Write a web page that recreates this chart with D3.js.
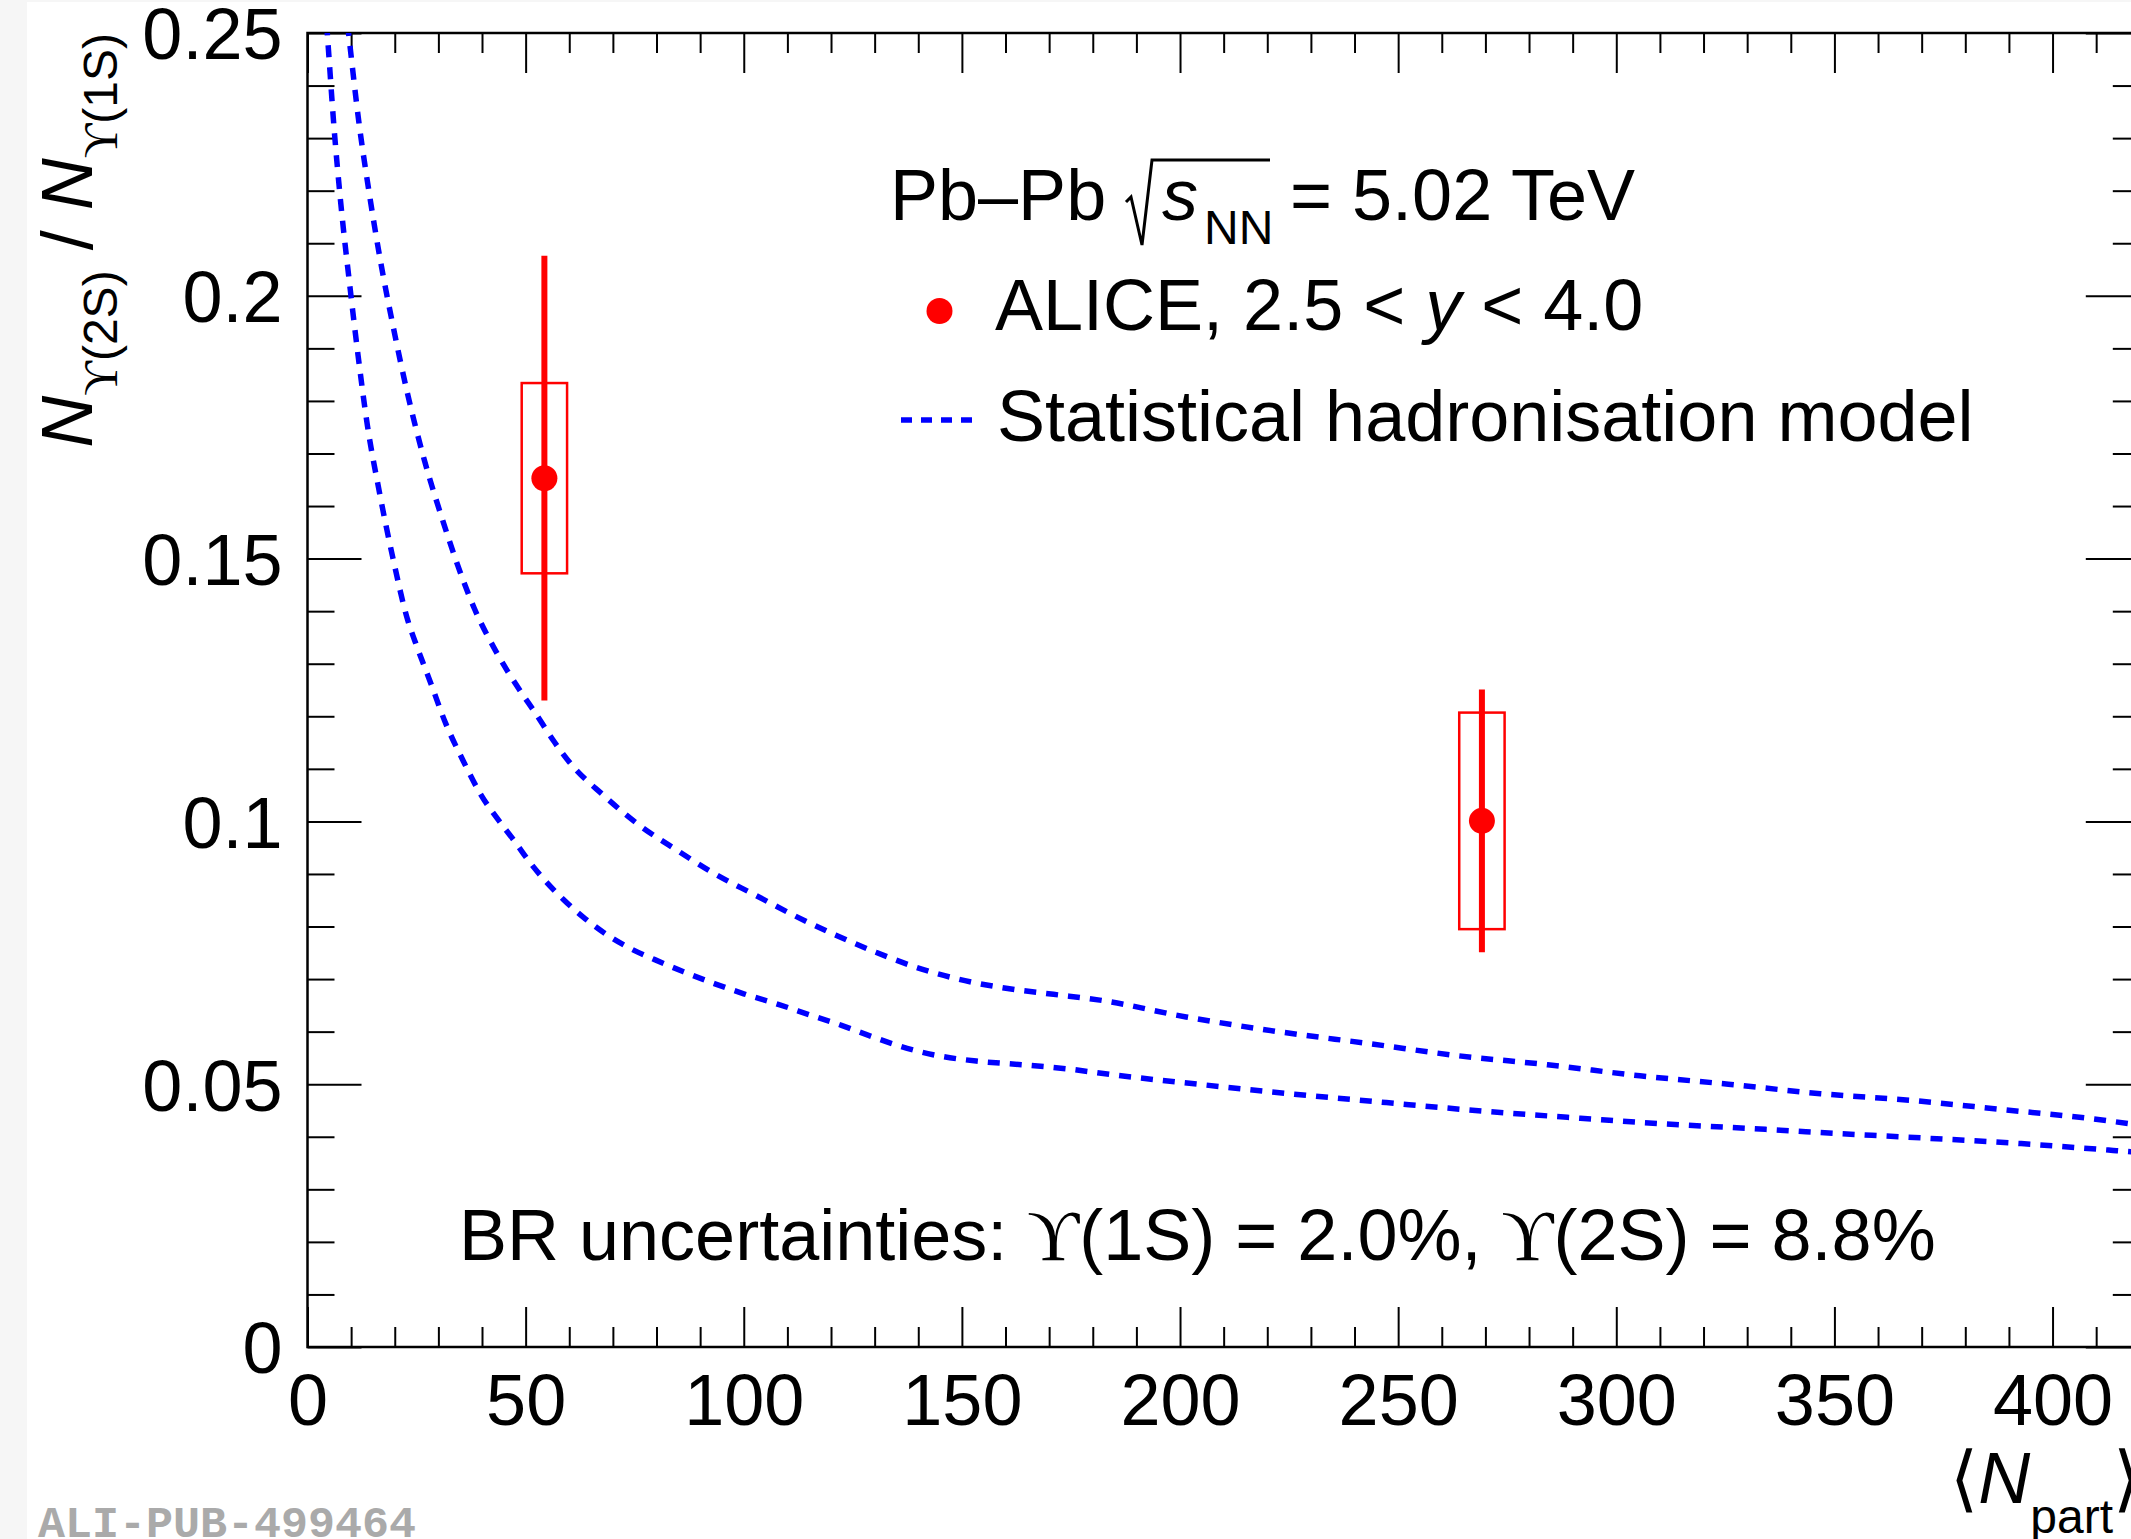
<!DOCTYPE html>
<html>
<head>
<meta charset="utf-8">
<script src="https://cdn.jsdelivr.net/npm/d3@7"></script>
<style>
  body { margin: 0; background: #fff; }
  svg { display: block; font-family: "Liberation Sans", Arial, Helvetica, sans-serif; }
</style>
</head>
<body>
<script>
// ALICE points, Y(2S)/Y(1S) vs <Npart>
var npart   = [54.3, 269.2];
var ratio   = [0.1653, 0.1001];
var statErr = [0.0423, 0.0250];
var systErr = [0.0181, 0.0206];

// statistical hadronisation model, upper / lower edge [Npart, ratio]
var shmUpper = [
  [8.0, 0.2600], [9.4, 0.2500], [11.8, 0.2329], [14.1, 0.2198], [16.6, 0.2072],
  [19.5, 0.1947], [22.9, 0.1815], [26.7, 0.1690], [31.1, 0.1570], [34.4, 0.1488],
  [38.2, 0.1406], [43.1, 0.1325], [48.7, 0.1249], [52.0, 0.1209], [56.6, 0.1151],
  [60.5, 0.1108], [67.8, 0.1050], [75.7, 0.0995], [84.9, 0.0944], [93.4, 0.0900],
  [102.6, 0.0860], [111.8, 0.0820], [121.0, 0.0784], [130.3, 0.0751], [140.8, 0.0719],
  [150.7, 0.0697], [160.5, 0.0682], [171.0, 0.0671], [181.6, 0.0660], [201.4, 0.0628],
  [222.5, 0.0600], [243.6, 0.0577], [263.9, 0.0554], [284.3, 0.0537], [305.4, 0.0516],
  [325.7, 0.0500], [346.8, 0.0482], [367.9, 0.0469], [388.2, 0.0452], [409.3, 0.0434],
  [420.0, 0.0422]
];
var shmLower = [
  [4.0, 0.2560], [4.6, 0.2492], [6.1, 0.2318], [7.5, 0.2187], [9.8, 0.2012],
  [11.6, 0.1886], [13.7, 0.1755], [16.4, 0.1630], [19.5, 0.1504], [22.9, 0.1385],
  [25.2, 0.1330], [28.3, 0.1262], [31.5, 0.1190], [35.7, 0.1115], [39.8, 0.1050],
  [44.0, 0.1000], [47.4, 0.0963], [50.7, 0.0925], [54.6, 0.0886], [58.6, 0.0852],
  [63.2, 0.0818], [67.8, 0.0789], [74.3, 0.0757], [79.6, 0.0737], [86.2, 0.0714],
  [93.4, 0.0691], [100.0, 0.0672], [107.9, 0.0652], [115.1, 0.0632], [122.4, 0.0612],
  [128.9, 0.0592], [135.5, 0.0573], [143.4, 0.0556], [153.3, 0.0544], [163.8, 0.0537],
  [174.3, 0.0529], [184.5, 0.0518], [205.2, 0.0499], [226.2, 0.0481], [247.3, 0.0465],
  [267.7, 0.0450], [288.8, 0.0437], [309.9, 0.0425], [330.2, 0.0416], [351.3, 0.0406],
  [371.7, 0.0397], [392.8, 0.0387], [413.9, 0.0374], [420.0, 0.0370]
];

var xMajorTicks = [0, 50, 100, 150, 200, 250, 300, 350, 400];
var xTickLabels = ["0", "50", "100", "150", "200", "250", "300", "350", "400"];
var yMajorTicks = [0, 0.05, 0.1, 0.15, 0.2, 0.25];
var yTickLabels = ["0", "0.05", "0.1", "0.15", "0.2", "0.25"];

var boxHalfWidth = 5.2; // syst box, in Npart units

//Viz space (frame runs a bit past the right edge of the picture)
var margin = {top: 33, left: 307.5},
    width = 1832.3,
    height = 1314;

var svg = d3.select("body").append("svg")
  .attr("width", 2131)
  .attr("height", 1539);

// light grey strip on the left / top like the original export
svg.append("rect").attr("x", 0).attr("y", 0).attr("width", 2131).attr("height", 1539).attr("fill", "#fff");
svg.append("rect").attr("x", 0).attr("y", 0).attr("width", 27).attr("height", 1539).attr("fill", "#f6f6f6");
svg.append("rect").attr("x", 0).attr("y", 0).attr("width", 2131).attr("height", 2).attr("fill", "#f6f6f6");

var plot = svg.append("g")
  .attr("transform", "translate(" + margin.left + "," + margin.top + ")");

var xScale = d3.scaleLinear().domain([0, 420]).range([0, width]);
var yScale = d3.scaleLinear().domain([0, 0.25]).range([height, 0]);

var xMinorTicks = d3.range(0, 421, 10).filter(function(d) { return d % 50 !== 0; });
var yMinorTicks = d3.range(1, 25).filter(function(d) { return d % 5 !== 0; }).map(function(d) { return d / 100; });

function styleAxis(g) {
  g.attr("font-size", 72).attr("font-family", null);
  g.select(".domain").remove();
  g.selectAll(".tick line").attr("stroke", "#000").attr("stroke-width", 2);
  g.selectAll(".tick text").attr("fill", "#000");
}

// bottom
plot.append("g").attr("transform", "translate(0," + height + ")")
  .call(d3.axisBottom(xScale).tickValues(xMinorTicks).tickSizeInner(-20).tickSizeOuter(0).tickFormat(""))
  .call(styleAxis);
plot.append("g").attr("transform", "translate(0," + height + ")")
  .call(d3.axisBottom(xScale).tickValues(xMajorTicks).tickSizeInner(-40).tickSizeOuter(0)
    .tickFormat(function(d, i) { return xTickLabels[i]; }))
  .call(styleAxis)
  .selectAll(".tick text").attr("y", 78).attr("dy", null);

// top
plot.append("g")
  .call(d3.axisTop(xScale).tickValues(xMinorTicks).tickSizeInner(-20).tickSizeOuter(0).tickFormat(""))
  .call(styleAxis);
plot.append("g")
  .call(d3.axisTop(xScale).tickValues(xMajorTicks).tickSizeInner(-40).tickSizeOuter(0).tickFormat(""))
  .call(styleAxis);

// left
plot.append("g")
  .call(d3.axisLeft(yScale).tickValues(yMinorTicks).tickSizeInner(-27).tickSizeOuter(0).tickFormat(""))
  .call(styleAxis);
plot.append("g")
  .call(d3.axisLeft(yScale).tickValues(yMajorTicks).tickSizeInner(-54).tickSizeOuter(0).tickPadding(25)
    .tickFormat(function(d, i) { return yTickLabels[i]; }))
  .call(styleAxis)
  .selectAll(".tick text").attr("dy", "0.36em");

// right
plot.append("g").attr("transform", "translate(" + width + ",0)")
  .call(d3.axisRight(yScale).tickValues(yMinorTicks).tickSizeInner(-27).tickSizeOuter(0).tickFormat(""))
  .call(styleAxis);
plot.append("g").attr("transform", "translate(" + width + ",0)")
  .call(d3.axisRight(yScale).tickValues(yMajorTicks).tickSizeInner(-54).tickSizeOuter(0).tickFormat(""))
  .call(styleAxis);

plot.append("rect")
  .attr("width", width).attr("height", height)
  .attr("fill", "none").attr("stroke", "#000").attr("stroke-width", 2.5);

// model curves
plot.append("clipPath").attr("id", "frame")
  .append("rect").attr("width", width).attr("height", height);

var line = d3.line()
  .x(function(d) { return xScale(d[0]); })
  .y(function(d) { return yScale(d[1]); })
  .curve(d3.curveMonotoneX);

plot.selectAll("path.shm")
  .data([shmUpper, shmLower]).enter()
  .append("path")
  .attr("class", "shm")
  .attr("clip-path", "url(#frame)")
  .attr("d", line)
  .attr("fill", "none")
  .attr("stroke", "#0000ff")
  .attr("stroke-width", 5.5)
  .attr("stroke-dasharray", "12,10");

// data points
var points = npart.map(function(d, i) {
  return {x: d, y: ratio[i], stat: statErr[i], syst: systErr[i]};
});

plot.selectAll("rect.syst")
  .data(points).enter()
  .append("rect")
  .attr("class", "syst")
  .attr("x", function(d) { return xScale(d.x - boxHalfWidth); })
  .attr("y", function(d) { return yScale(d.y + d.syst); })
  .attr("width", function(d) { return xScale(d.x + boxHalfWidth) - xScale(d.x - boxHalfWidth); })
  .attr("height", function(d) { return yScale(d.y - d.syst) - yScale(d.y + d.syst); })
  .attr("fill", "none")
  .attr("stroke", "#ff0000")
  .attr("stroke-width", 2.5);

plot.selectAll("line.stat")
  .data(points).enter()
  .append("line")
  .attr("class", "stat")
  .attr("x1", function(d) { return xScale(d.x); })
  .attr("x2", function(d) { return xScale(d.x); })
  .attr("y1", function(d) { return yScale(d.y + d.stat); })
  .attr("y2", function(d) { return yScale(d.y - d.stat); })
  .attr("stroke", "#ff0000")
  .attr("stroke-width", 6);

plot.selectAll("circle.pt")
  .data(points).enter()
  .append("circle")
  .attr("class", "pt")
  .attr("cx", function(d) { return xScale(d.x); })
  .attr("cy", function(d) { return yScale(d.y); })
  .attr("r", 13)
  .attr("fill", "#ff0000");

// ---- texts ----
var SERIF = "'Liberation Serif', 'DejaVu Serif', serif";

// y title
var yt = svg.append("text")
  .attr("transform", "translate(91.5,33) rotate(-90)")
  .attr("text-anchor", "end")
  .attr("font-size", 72);
yt.append("tspan").attr("font-style", "italic").text("N");
yt.append("tspan").attr("font-size", 48).attr("dy", 25).attr("font-family", SERIF).text("ϒ");
yt.append("tspan").attr("font-size", 48).text("(2S)");
yt.append("tspan").attr("dy", -25).text(" / ");
yt.append("tspan").attr("font-style", "italic").text("N");
yt.append("tspan").attr("font-size", 48).attr("dy", 25).attr("font-family", SERIF).text("ϒ");
yt.append("tspan").attr("font-size", 48).text("(1S)");

// x title
var xt = svg.append("text")
  .attr("x", 2141).attr("y", 1503)
  .attr("text-anchor", "end")
  .attr("font-size", 72);
xt.append("tspan").attr("font-family", "'DejaVu Sans', sans-serif").attr("font-weight", 200).text("⟨");
xt.append("tspan").attr("font-style", "italic").text("N");
xt.append("tspan").attr("font-size", 48).attr("dy", 30).text("part");
xt.append("tspan").attr("dy", -30).attr("font-family", "'DejaVu Sans', sans-serif").attr("font-weight", 200).text("⟩");

// legend header: Pb-Pb sqrt(s_NN) = 5.02 TeV
svg.append("text").attr("x", 890).attr("y", 220).attr("font-size", 72).text("Pb–Pb");
svg.append("path")
  .attr("d", "M1126,202 L1131,197 L1142,245 L1152,160 L1270,160")
  .attr("fill", "none").attr("stroke", "#000").attr("stroke-width", 3);
svg.append("text").attr("x", 1162).attr("y", 220).attr("font-size", 72).attr("font-style", "italic").text("s");
svg.append("text").attr("x", 1204).attr("y", 244).attr("font-size", 48).text("NN");
svg.append("text").attr("x", 1290).attr("y", 220).attr("font-size", 72).text("= 5.02 TeV");

// legend entries
svg.append("circle").attr("cx", 939.5).attr("cy", 311).attr("r", 13).attr("fill", "#ff0000");
var lt = svg.append("text").attr("x", 995).attr("y", 330).attr("font-size", 72);
lt.append("tspan").text("ALICE, 2.5 < ");
lt.append("tspan").attr("font-style", "italic").text("y");
lt.append("tspan").text(" < 4.0");

svg.append("line")
  .attr("x1", 901).attr("x2", 976).attr("y1", 420).attr("y2", 420)
  .attr("stroke", "#0000ff").attr("stroke-width", 5.5).attr("stroke-dasharray", "11,9");
svg.append("text").attr("x", 997).attr("y", 441).attr("font-size", 72).text("Statistical hadronisation model");

// BR note
var br = svg.append("text").attr("x", 459).attr("y", 1260).attr("font-size", 72);
br.append("tspan").text("BR uncertainties: ");
br.append("tspan").attr("font-family", SERIF).text("ϒ");
br.append("tspan").text("(1S) = 2.0%, ");
br.append("tspan").attr("font-family", SERIF).text("ϒ");
br.append("tspan").text("(2S) = 8.8%");

// figure id
svg.append("text")
  .attr("x", 38).attr("y", 1537)
  .attr("font-family", "'Liberation Mono', 'DejaVu Sans Mono', monospace")
  .attr("font-weight", "bold")
  .attr("font-size", 45)
  .attr("fill", "#aaaaaa")
  .text("ALI-PUB-499464");
</script>
</body>
</html>
